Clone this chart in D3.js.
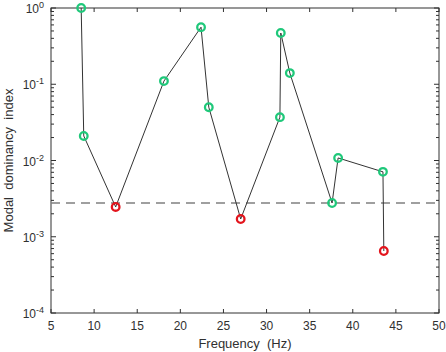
<!DOCTYPE html>
<html>
<head>
<meta charset="utf-8">
<script src="https://cdn.jsdelivr.net/npm/d3@7"></script>
<style>
  body { margin: 0; background: #fff; }
  svg { font-family: "Liberation Sans", Arial, sans-serif; }
</style>
</head>
<body>
<div id="chart"></div>
<script>
// data
var freq = [8.5, 8.8, 12.5, 18.1, 22.4, 23.3, 27.0, 31.55, 31.65, 32.7, 37.6, 38.3, 43.5, 43.6];
var mdi  = [1.0, 0.021, 0.00246, 0.110, 0.56, 0.050, 0.00171, 0.037, 0.47, 0.14, 0.00277, 0.0108, 0.0071, 0.00065];
var isLow = [0, 0, 1, 0, 0, 0, 1, 0, 0, 0, 0, 0, 0, 1];
var threshold = 0.00277;
var xTicks = [5, 10, 15, 20, 25, 30, 35, 40, 45, 50];
var yExp = [0, -1, -2, -3, -4];

var points = freq.map(function(f, i) { return {f: f, v: mdi[i], low: isLow[i]}; });

var margin = {top: 8, right: 7, bottom: 39, left: 51},
    width = 446 - margin.left - margin.right,
    height = 352 - margin.top - margin.bottom;

var axisColor = "#303030";

var svg = d3.select("#chart")
  .append("svg")
    .attr("width", 446)
    .attr("height", 352)
  .append("g")
    .attr("transform", "translate(" + margin.left + "," + margin.top + ")");

var x = d3.scaleLinear().domain([5, 50]).range([0, width]);
var y = d3.scaleLog().domain([1e-4, 1]).range([height, 0]);

// minor tick values for log axis
var minor = [];
yExp.forEach(function(e) {
  if (e === 0) return;
  for (var k = 2; k <= 9; k++) minor.push(k * Math.pow(10, e));
});

// box
svg.append("rect")
  .attr("width", width).attr("height", height)
  .attr("fill", "none").attr("stroke", axisColor).attr("stroke-width", 1);

// x ticks (inward, bottom and top)
xTicks.forEach(function(t) {
  svg.append("line").attr("x1", x(t)).attr("x2", x(t)).attr("y1", height).attr("y2", height - 4)
    .attr("stroke", axisColor);
  svg.append("line").attr("x1", x(t)).attr("x2", x(t)).attr("y1", 0).attr("y2", 4)
    .attr("stroke", axisColor);
  svg.append("text")
    .attr("x", x(t)).attr("y", height + 17)
    .attr("text-anchor", "middle")
    .attr("font-size", 12)
    .attr("fill", axisColor)
    .text(t);
});

// y major ticks + labels
yExp.forEach(function(e) {
  var v = Math.pow(10, e);
  svg.append("line").attr("x1", 0).attr("x2", 5).attr("y1", y(v)).attr("y2", y(v)).attr("stroke", axisColor);
  svg.append("line").attr("x1", width).attr("x2", width - 5).attr("y1", y(v)).attr("y2", y(v)).attr("stroke", axisColor);
  var t = svg.append("text")
    .attr("x", -7).attr("y", y(v) + 5)
    .attr("text-anchor", "end")
    .attr("fill", axisColor)
    .attr("font-size", 12);
  t.append("tspan").text("10");
  t.append("tspan").attr("dy", -5).attr("font-size", 9).text(e);
});

// y minor ticks
minor.forEach(function(v) {
  svg.append("line").attr("x1", 0).attr("x2", 3).attr("y1", y(v)).attr("y2", y(v)).attr("stroke", axisColor);
  svg.append("line").attr("x1", width).attr("x2", width - 3).attr("y1", y(v)).attr("y2", y(v)).attr("stroke", axisColor);
});

// axis labels
svg.append("text")
  .attr("x", width / 2).attr("y", height + 35)
  .attr("text-anchor", "middle")
  .attr("font-size", 13)
  .attr("fill", axisColor)
  .attr("xml:space", "preserve")
  .text("Frequency  (Hz)");

svg.append("text")
  .attr("transform", "rotate(-90)")
  .attr("x", -height / 2).attr("y", -38)
  .attr("text-anchor", "middle")
  .attr("font-size", 13)
  .attr("fill", axisColor)
  .attr("xml:space", "preserve")
  .text("Modal  dominancy  index");

// threshold dashed line
svg.append("line")
  .attr("x1", 0).attr("x2", width)
  .attr("y1", y(threshold)).attr("y2", y(threshold))
  .attr("stroke", "#808080")
  .attr("stroke-width", 1.5)
  .attr("stroke-dasharray", "9,6");

// connecting line
var line = d3.line()
  .x(function(d) { return x(d.f); })
  .y(function(d) { return y(d.v); });

svg.append("path")
  .datum(points)
  .attr("d", line)
  .attr("fill", "none")
  .attr("stroke", "#333")
  .attr("stroke-width", 1);

// markers
svg.selectAll("circle.pt")
  .data(points)
  .enter().append("circle")
  .attr("class", "pt")
  .attr("cx", function(d) { return x(d.f); })
  .attr("cy", function(d) { return y(d.v); })
  .attr("r", 3.8)
  .attr("fill", "none")
  .attr("stroke", function(d) { return d.low ? "#e3141c" : "#1fc87a"; })
  .attr("stroke-width", 2.3);
</script>
</body>
</html>
